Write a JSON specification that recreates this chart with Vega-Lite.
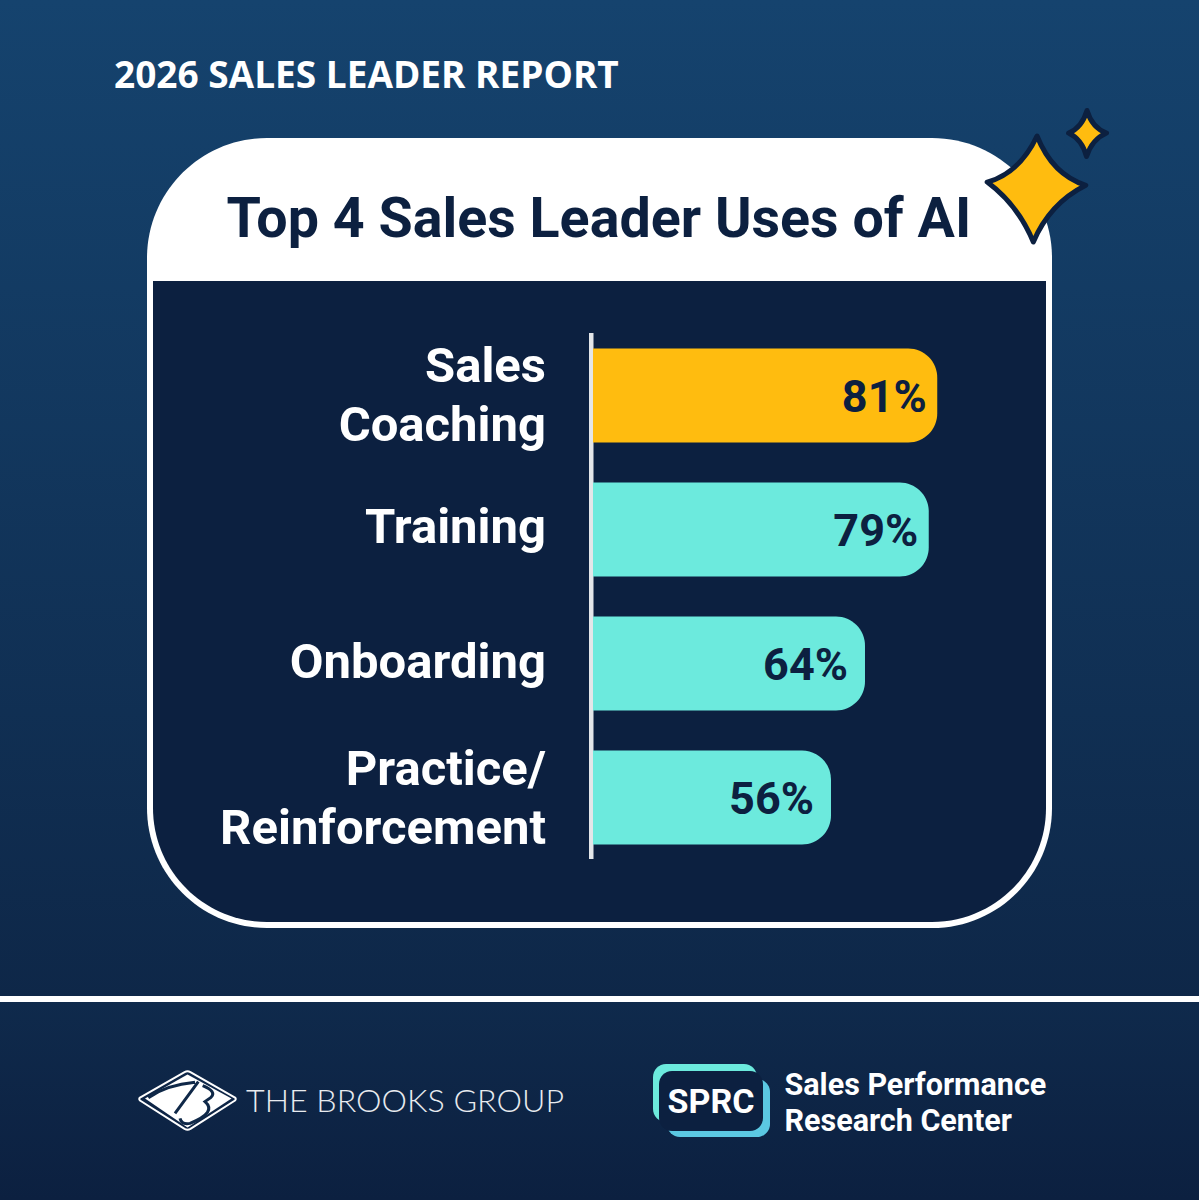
{
  "$schema": "https://vega.github.io/schema/vega-lite/v6.json",
  "width": 1199,
  "height": 1200,
  "autosize": {"type": "fit", "contains": "padding"},
  "padding": 0,
  "background": "#0c2040",
  "config": {"view": {"stroke": null}, "text": {"font": "Roboto"}},
  "resolve": {"scale": {"x": "independent", "y": "independent", "color": "independent"}},
  "layer": [
    {
      "data": {"values": [{}]},
      "encoding": {
        "x": {"datum": 0, "type": "quantitative", "scale": {"domain": [0, 1199], "nice": false, "zero": false}, "axis": null},
        "y": {"datum": 0, "type": "quantitative", "scale": {"domain": [1200, 0], "nice": false, "zero": false}, "axis": null}
      },
      "layer": [
        {
          "mark": {"type": "rect", "color": {"gradient": "linear", "x1": 0, "y1": 0, "x2": 0, "y2": 1, "stops": [{"offset": 0, "color": "#15436e"}, {"offset": 1, "color": "#0e2748"}]}},
          "encoding": {"x": {"datum": 0}, "x2": {"datum": 1199}, "y": {"datum": 0}, "y2": {"datum": 1000}}
        },
        {
          "mark": {"type": "rect", "color": {"gradient": "linear", "x1": 0, "y1": 0, "x2": 0, "y2": 1, "stops": [{"offset": 0, "color": "#0f2a4c"}, {"offset": 1, "color": "#0c2040"}]}},
          "encoding": {"x": {"datum": 0}, "x2": {"datum": 1199}, "y": {"datum": 1000}, "y2": {"datum": 1200}}
        },
        {
          "mark": {"type": "rect", "color": "#ffffff"},
          "encoding": {"x": {"datum": 0}, "x2": {"datum": 1199}, "y": {"datum": 996}, "y2": {"datum": 1002}}
        },
        {
          "mark": {"type": "rect", "color": "#ffffff", "cornerRadius": 120},
          "encoding": {"x": {"datum": 147}, "x2": {"datum": 1052}, "y": {"datum": 138}, "y2": {"datum": 928}}
        },
        {
          "mark": {"type": "rect", "color": "#0c2040", "cornerRadiusBottomLeft": 114, "cornerRadiusBottomRight": 114},
          "encoding": {"x": {"datum": 153}, "x2": {"datum": 1046}, "y": {"datum": 281}, "y2": {"datum": 922}}
        },
        {
          "mark": {"type": "rect", "color": "#e4e6e9"},
          "encoding": {"x": {"datum": 589}, "x2": {"datum": 593.5}, "y": {"datum": 333}, "y2": {"datum": 859}}
        },
        {
          "mark": {"type": "text", "text": "2026 SALES LEADER REPORT", "align": "left", "baseline": "alphabetic", "font": "Open Sans", "fontSize": 37, "fontWeight": 700, "color": "#ffffff"},
          "encoding": {"x": {"datum": 114}, "y": {"datum": 88}}
        },
        {
          "mark": {"type": "text", "text": "Top 4 Sales Leader Uses of AI", "align": "left", "baseline": "alphabetic", "fontSize": 55.6, "fontWeight": 700, "color": "#0c2040"},
          "encoding": {"x": {"datum": 226.5}, "y": {"datum": 236.5}}
        },
        {
          "mark": {"type": "point", "filled": true, "fill": "#ffbc0f", "stroke": "#0c2040", "strokeWidth": 5, "strokeJoin": "round", "opacity": 1, "size": 11236,
            "shape": "M.01-1Q.3-.27.93-.07Q.25.27-.06 1Q-.35.3-.93-.13Q-.32-.3.01-1Z"},
          "encoding": {"x": {"datum": 1036.5}, "y": {"datum": 189}}
        },
        {
          "mark": {"type": "point", "filled": true, "fill": "#ffbc0f", "stroke": "#0c2040", "strokeWidth": 5, "strokeJoin": "round", "opacity": 1, "size": 2116,
            "shape": "M0-1Q.22-.25.85-.02Q.22.25-.02 1Q-.22.25-.8-.02Q-.22-.25 0-1Z"},
          "encoding": {"x": {"datum": 1087}, "y": {"datum": 133.5}}
        },
        {
          "mark": {"type": "point", "filled": false, "stroke": "#ffffff", "strokeWidth": 2, "strokeJoin": "round", "opacity": 1, "size": 9604,
            "shape": "M-.97-.06L-.06-.58Q0-.61.06-.58L.97-.06Q1-.03.97 0L.06.58Q0 .61-.06.58L-.97 0Q-1-.03-.97-.06Z"},
          "encoding": {"x": {"datum": 187.5}, "y": {"datum": 1100.5}}
        },
        {
          "mark": {"type": "point", "filled": true, "fill": "#ffffff", "strokeWidth": 0, "opacity": 1, "size": 10000,
            "shape": "M-.85-.04L0-.52L.88-.04L0 .54Z"},
          "encoding": {"x": {"datum": 187.5}, "y": {"datum": 1100.5}}
        },
        {
          "mark": {"type": "point", "filled": false, "stroke": "#0f2848", "strokeWidth": 3, "opacity": 1, "size": 10000,
            "shape": "M-.783-.057Q-.417-.31.15-.363M.217-.377L-.25.257M.303-.297Q.597-.177.463-.057Q.35.023.35.023Q.597.237.05.457Q-.117.49-.15.357"},
          "encoding": {"x": {"datum": 187.5}, "y": {"datum": 1100.5}}
        },
        {
          "mark": {"type": "text", "text": "THE BROOKS GROUP", "align": "left", "baseline": "alphabetic", "font": "Lato", "fontSize": 32.2, "fontWeight": 300, "color": "#e8ebef"},
          "encoding": {"x": {"datum": 246}, "y": {"datum": 1112}}
        },
        {
          "mark": {"type": "rect", "color": "#6ceadd", "cornerRadius": 13},
          "encoding": {"x": {"datum": 653}, "x2": {"datum": 757}, "y": {"datum": 1064}, "y2": {"datum": 1122}}
        },
        {
          "mark": {"type": "rect", "color": "#5bc8e2", "cornerRadius": 13},
          "encoding": {"x": {"datum": 667}, "x2": {"datum": 770}, "y": {"datum": 1079}, "y2": {"datum": 1137}}
        },
        {
          "mark": {"type": "rect", "color": "#0c2040", "cornerRadius": 13},
          "encoding": {"x": {"datum": 659}, "x2": {"datum": 763}, "y": {"datum": 1071}, "y2": {"datum": 1131}}
        },
        {
          "mark": {"type": "text", "text": "SPRC", "align": "center", "baseline": "alphabetic", "fontSize": 34, "fontWeight": 700, "color": "#ffffff"},
          "encoding": {"x": {"datum": 711}, "y": {"datum": 1113}}
        },
        {
          "mark": {"type": "text", "text": "Sales Performance", "align": "left", "baseline": "alphabetic", "fontSize": 30.5, "fontWeight": 700, "color": "#ffffff"},
          "encoding": {"x": {"datum": 784.5}, "y": {"datum": 1094.5}}
        },
        {
          "mark": {"type": "text", "text": "Research Center", "align": "left", "baseline": "alphabetic", "fontSize": 30.5, "fontWeight": 700, "color": "#ffffff"},
          "encoding": {"x": {"datum": 784.5}, "y": {"datum": 1130.5}}
        }
      ]
    },
    {
      "data": {
        "values": [
          {"use": "Sales\nCoaching", "share": 0.81},
          {"use": "Training", "share": 0.79},
          {"use": "Onboarding", "share": 0.64},
          {"use": "Practice/\nReinforcement", "share": 0.56}
        ]
      },
      "encoding": {
        "y": {
          "field": "use",
          "type": "nominal",
          "sort": null,
          "axis": null,
          "scale": {"range": [328.5, 864.5], "paddingInner": 0.2985, "paddingOuter": 0.149}
        }
      },
      "layer": [
        {
          "mark": {"type": "rect", "cornerRadiusTopRight": 29, "cornerRadiusBottomRight": 29},
          "encoding": {
            "x": {"field": "share", "type": "quantitative", "axis": null, "scale": {"domain": [-1.3953, 1.4259], "nice": false, "zero": false}},
            "x2": {"datum": 0},
            "color": {
              "field": "use",
              "type": "nominal",
              "legend": null,
              "sort": null,
              "scale": {"range": ["#ffbc0f", "#6ceadd", "#6ceadd", "#6ceadd"]}
            }
          }
        },
        {
          "transform": [{"filter": "datum.share > 0.7"}],
          "mark": {"type": "text", "align": "right", "baseline": "middle", "dx": -10.5, "dy": 2.5, "fontSize": 45, "fontWeight": 700, "color": "#0c2040"},
          "encoding": {
            "x": {"field": "share", "type": "quantitative"},
            "text": {"field": "share", "type": "quantitative", "format": ".0%"}
          }
        },
        {
          "transform": [{"filter": "datum.share <= 0.7"}],
          "mark": {"type": "text", "align": "right", "baseline": "middle", "dx": -17, "dy": 2.5, "fontSize": 45, "fontWeight": 700, "color": "#0c2040"},
          "encoding": {
            "x": {"field": "share", "type": "quantitative"},
            "text": {"field": "share", "type": "quantitative", "format": ".0%"}
          }
        },
        {
          "transform": [{"filter": "indexof(datum.use, '\\n') < 0"}],
          "mark": {"type": "text", "align": "right", "baseline": "middle", "dy": -1, "fontSize": 49, "fontWeight": 700, "color": "#ffffff"},
          "encoding": {
            "x": {"datum": -0.1106, "type": "quantitative"},
            "text": {"field": "use", "type": "nominal"}
          }
        },
        {
          "transform": [{"filter": "indexof(datum.use, '\\n') >= 0"}],
          "mark": {"type": "text", "align": "right", "baseline": "middle", "dy": -28, "lineBreak": "\n", "lineHeight": 59, "fontSize": 49, "fontWeight": 700, "color": "#ffffff"},
          "encoding": {
            "x": {"datum": -0.1106, "type": "quantitative"},
            "text": {"field": "use", "type": "nominal"}
          }
        }
      ]
    }
  ]
}
